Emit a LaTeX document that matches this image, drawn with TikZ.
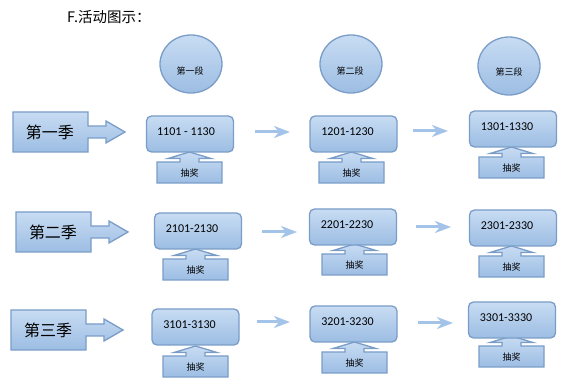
\documentclass[tikz,border=0pt]{standalone}
\usepackage{fontspec}
\setmainfont{Carlito}
\newfontfamily\cjk{Noto Sans CJK SC}
\usetikzlibrary{shapes.geometric,arrows.meta}
\definecolor{boxtop}{HTML}{C8DCF3}
\definecolor{boxbot}{HTML}{9CBDE3}
\definecolor{boxline}{HTML}{7A9DC8}
\definecolor{arrowfill}{HTML}{A3C4E8}
\tikzset{
  shapefill/.style={top color=boxtop,bottom color=boxbot,draw=boxline,line width=1.3pt},
  numbox/.style={shapefill,rounded corners=5pt,minimum width=87pt,minimum height=36pt,inner sep=0pt},
  stagecirc/.style={shapefill,ellipse,minimum width=62pt,minimum height=58pt,inner sep=0pt},
  numtxt/.style={inner sep=0pt,font=\fontsize{12}{14}\selectfont},
  stagetxt/.style={inner sep=0pt,font=\cjk\fontsize{9}{10}\selectfont},
  lotterytxt/.style={inner sep=0pt,font=\cjk\fontsize{9}{10}\selectfont},
  seasontxt/.style={inner sep=0pt,font=\cjk\fontsize{16}{18}\selectfont},
  lightarrow/.style={draw=arrowfill,line width=3pt,-{Stealth[length=16pt,width=12pt,inset=5pt]}}
}
% season block arrow: #1 left, #2 top, #3 name, #4 text
\newcommand\SeasonArrow[4]{%
  \path[shapefill] (#1,#2) -- ++(75,0) -- ++(0,14) -- ++(18,0) -- ++(0,-5) -- ++(19,11)
     -- ++(-19,11) -- ++(0,-5) -- ++(-18,0) -- ++(0,14) -- ++(-75,0) -- cycle;
  \node[seasontxt] (#3) at (#1+37,#2+20) {#4};
}
% lottery up-arrow box: #1 left, #2 top, #3 name
\newcommand\LotteryBox[3]{%
  \path[shapefill] (#1,#2) -- ++(23,0) -- ++(0,-3.5) -- ++(-12,0) -- ++(21.5,-6.5)
     -- ++(21.5,6.5) -- ++(-12,0) -- ++(0,3.5) -- ++(23,0) -- ++(0,21) -- ++(-65,0) -- cycle;
  \node[lotterytxt] (#3) at (#1+32.5,#2+11) {抽奖};
}
\begin{document}
\begin{tikzpicture}[x=1pt,y=-1pt]
\useasboundingbox (0,0) rectangle (574,390);
\node[inner sep=0pt,anchor=west,font=\cjk\fontsize{14.5}{16}\selectfont] (title) at (67,17) {F.活动图示：};

% stage circles
\node[stagecirc] (c1) at (191,64) {};
\node[stagecirc] (c2) at (351,64) {};
\node[stagecirc] (c3) at (509,66) {};
\node[stagetxt] (c1t) at (190,71) {第一段};
\node[stagetxt] (c2t) at (350,71) {第二段};
\node[stagetxt] (c3t) at (509,72) {第三段};

% seasons
\SeasonArrow{13}{112}{s1}{第一季}
\SeasonArrow{16}{212}{s2}{第二季}
\SeasonArrow{11}{310}{s3}{第三季}

% lottery boxes (drawn before number boxes so tips sit under them)
\LotteryBox{157}{162}{l11}
\LotteryBox{319}{162}{l12}
\LotteryBox{479}{157}{l13}
\LotteryBox{163}{259}{l21}
\LotteryBox{322}{254}{l22}
\LotteryBox{479}{256}{l23}
\LotteryBox{163}{356}{l31}
\LotteryBox{322}{352}{l32}
\LotteryBox{479}{346}{l33}

% number boxes
\node[numbox] (b11) at (190,134) {};
\node[numbox] (b12) at (353.5,134) {};
\node[numbox] (b13) at (513,129) {};
\node[numbox] (b21) at (198,231) {};
\node[numbox] (b22) at (353,227) {};
\node[numbox] (b23) at (513,228) {};
\node[numbox] (b31) at (195.5,327) {};
\node[numbox] (b32) at (353.5,324) {};
\node[numbox] (b33) at (512,320) {};

\node[numtxt] (t11) at ([shift={(-4,-2)}]b11.center) {1101 - 1130};
\node[numtxt] (t12) at ([shift={(-6,-2)}]b12.center) {1201-1230};
\node[numtxt] (t13) at ([shift={(-6,-2)}]b13.center) {1301-1330};
\node[numtxt] (t21) at ([shift={(-6,-2)}]b21.center) {2101-2130};
\node[numtxt] (t22) at ([shift={(-6,-2)}]b22.center) {2201-2230};
\node[numtxt] (t23) at ([shift={(-6,-2)}]b23.center) {2301-2330};
\node[numtxt] (t31) at ([shift={(-6,-2)}]b31.center) {3101-3130};
\node[numtxt] (t32) at ([shift={(-6,-2)}]b32.center) {3201-3230};
\node[numtxt] (t33) at ([shift={(-6,-2)}]b33.center) {3301-3330};

% light arrows between boxes
\coordinate (a11) at (255,132); \coordinate (a12) at (290,132);
\coordinate (a21) at (413,131); \coordinate (a22) at (448,131);
\coordinate (a31) at (262,232); \coordinate (a32) at (297,232);
\coordinate (a41) at (416,227); \coordinate (a42) at (451,227);
\coordinate (a51) at (257,322); \coordinate (a52) at (290,322);
\coordinate (a61) at (418,323); \coordinate (a62) at (453,323);
\draw[lightarrow] (a11) -- (a12);
\draw[lightarrow] (a21) -- (a22);
\draw[lightarrow] (a31) -- (a32);
\draw[lightarrow] (a41) -- (a42);
\draw[lightarrow] (a51) -- (a52);
\draw[lightarrow] (a61) -- (a62);
\end{tikzpicture}
\end{document}
